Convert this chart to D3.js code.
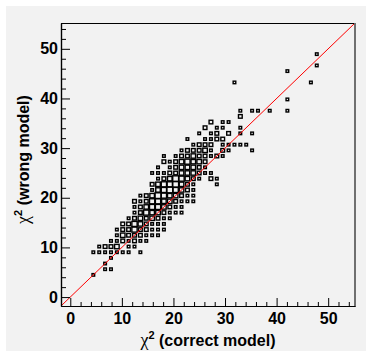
<!DOCTYPE html>
<html>
<head>
<meta charset="utf-8">
<script src="https://cdn.jsdelivr.net/npm/d3@7"></script>
<style>
  body { margin: 0; background: #fff; }
  .tick text { font-family: "Liberation Sans", Arial, sans-serif; font-weight: bold; font-size: 16px; fill: #000; }
</style>
</head>
<body>
<script>
// histogram definition (same binning on both axes)
const axisRange = [-1.8, 55.2];
const nBins = 50;

const majorTicks = [0, 10, 20, 30, 40, 50];
const minorTicks = [2, 4, 6, 8, 12, 14, 16, 18, 22, 24, 26, 28, 32, 34, 36, 38, 42, 44, 46, 48, 52, 54];

const xTitle = "(correct model)";
const yTitle = "(wrong model)";

// filled bins: [x bin, y bin, entries]
const cells = [
  [5, 5, 1], [7, 6, 1], [8, 6, 1], [7, 7, 1], [8, 8, 1],
  [5, 9, 1], [6, 9, 1], [7, 9, 1], [8, 9, 1], [9, 9, 1], [10, 9, 1], [11, 9, 1], [13, 9, 1],
  [6, 10, 1], [7, 10, 2], [8, 10, 2], [9, 10, 3], [11, 10, 1], [12, 10, 1],
  [8, 11, 1], [9, 11, 1], [10, 11, 2], [11, 11, 1], [12, 11, 2], [13, 11, 1], [14, 11, 1],
  [9, 12, 1], [10, 12, 3], [11, 12, 2], [12, 12, 2], [13, 12, 2], [14, 12, 1], [15, 12, 1], [16, 12, 1],
  [9, 13, 1], [10, 13, 2], [11, 13, 2], [12, 13, 4], [13, 13, 2], [14, 13, 2], [15, 13, 1], [16, 13, 1], [17, 13, 1],
  [10, 14, 2], [11, 14, 2], [12, 14, 4], [13, 14, 3], [14, 14, 2], [15, 14, 1], [16, 14, 1], [17, 14, 1],
  [11, 15, 1], [12, 15, 2], [13, 15, 3], [14, 15, 2], [15, 15, 3], [16, 15, 2], [17, 15, 1], [18, 15, 1],
  [12, 16, 1], [13, 16, 2], [14, 16, 4], [15, 16, 3], [16, 16, 3], [17, 16, 2], [18, 16, 1], [19, 16, 1], [20, 16, 1],
  [12, 17, 1], [13, 17, 2], [14, 17, 3], [15, 17, 4], [16, 17, 4], [17, 17, 3], [18, 17, 2], [19, 17, 1], [20, 17, 1],
  [12, 18, 2], [13, 18, 1], [14, 18, 2], [15, 18, 4], [16, 18, 4], [17, 18, 3], [18, 18, 3], [19, 18, 2], [20, 18, 1], [21, 18, 1], [22, 18, 1],
  [13, 19, 1], [14, 19, 2], [15, 19, 3], [16, 19, 5], [17, 19, 4], [18, 19, 3], [19, 19, 3], [20, 19, 2], [21, 19, 1], [22, 19, 1],
  [15, 20, 1], [16, 20, 3], [17, 20, 4], [18, 20, 5], [19, 20, 4], [20, 20, 3], [21, 20, 2], [22, 20, 1],
  [15, 21, 2], [16, 21, 3], [17, 21, 4], [18, 21, 4], [19, 21, 5], [20, 21, 3], [21, 21, 2], [22, 21, 1], [26, 21, 1],
  [16, 22, 1], [17, 22, 2], [18, 22, 3], [19, 22, 5], [20, 22, 4], [21, 22, 3], [22, 22, 2], [23, 22, 1], [25, 22, 2], [26, 22, 1],
  [15, 23, 1], [16, 23, 1], [17, 23, 1], [18, 23, 2], [19, 23, 2], [20, 23, 3], [21, 23, 3], [22, 23, 3], [23, 23, 2], [24, 23, 1], [25, 23, 1],
  [16, 24, 1], [18, 24, 1], [19, 24, 2], [20, 24, 3], [21, 24, 3], [22, 24, 3], [23, 24, 2], [24, 24, 1],
  [17, 25, 2], [18, 25, 1], [19, 25, 2], [20, 25, 3], [21, 25, 4], [22, 25, 3], [23, 25, 3], [24, 25, 2],
  [17, 26, 1], [19, 26, 1], [20, 26, 2], [21, 26, 2], [22, 26, 3], [23, 26, 2], [24, 26, 2], [25, 26, 1], [26, 26, 2], [27, 26, 1],
  [20, 27, 1], [21, 27, 2], [22, 27, 2], [23, 27, 2], [24, 27, 3], [25, 27, 1], [27, 27, 2], [28, 27, 1], [32, 27, 1],
  [22, 28, 1], [23, 28, 2], [24, 28, 2], [25, 28, 2], [27, 28, 1], [28, 28, 1], [29, 28, 1], [30, 28, 1], [31, 28, 1],
  [21, 29, 1], [24, 29, 1], [25, 29, 1], [26, 29, 2], [27, 29, 2],
  [23, 30, 1], [25, 30, 1], [26, 30, 2], [28, 30, 2], [30, 30, 1], [32, 30, 1],
  [24, 31, 2], [26, 31, 1], [27, 31, 1], [30, 31, 1],
  [25, 32, 2], [27, 32, 1], [28, 32, 1],
  [30, 33, 2],
  [30, 34, 1], [32, 34, 1], [33, 34, 1], [35, 34, 1], [38, 34, 1],
  [38, 36, 1],
  [29, 39, 1], [42, 39, 1],
  [38, 41, 1],
  [43, 42, 1],
  [43, 44, 1]
];

// ----- layout -----
const W = 368, H = 357;
const frame = { left: 61, right: 355, top: 23, bottom: 306 };
const bg = "#f2f2f2";

const svg = d3.select("body").append("svg")
  .attr("width", W)
  .attr("height", H);

svg.append("rect")
  .attr("x", 6).attr("y", 6)
  .attr("width", 360).attr("height", 345)
  .attr("fill", bg);

const x = d3.scaleLinear().domain(axisRange).range([frame.left, frame.right]);
const y = d3.scaleLinear().domain(axisRange).range([frame.bottom, frame.top]);
const binW = (axisRange[1] - axisRange[0]) / nBins;
const maxN = d3.max(cells, d => d[2]);

// boxes: side grows with sqrt of content, centred in the bin
const side = n => binW * Math.sqrt(n / maxN);
const boxes = svg.append("g").attr("class", "boxes");
boxes.selectAll("rect")
  .data(cells)
  .enter()
  .append("rect")
    .attr("x", d => x(axisRange[0] + (d[0] + 0.5) * binW - side(d[2]) / 2))
    .attr("y", d => y(axisRange[0] + (d[1] + 0.5) * binW + side(d[2]) / 2))
    .attr("width", d => x(axisRange[0] + side(d[2])) - x(axisRange[0]))
    .attr("height", d => y(axisRange[0]) - y(axisRange[0] + side(d[2])))
    .attr("fill", "none")
    .attr("stroke", "#000")
    .attr("stroke-width", 1.4);

// y = x reference line
svg.append("line")
  .attr("x1", x(axisRange[0])).attr("y1", y(axisRange[0]))
  .attr("x2", x(axisRange[1])).attr("y2", y(axisRange[1]))
  .attr("stroke", "#ff0000")
  .attr("stroke-width", 1);

// frame edges
svg.append("line")
  .attr("x1", frame.left).attr("x2", frame.right)
  .attr("y1", frame.top + 0.5).attr("y2", frame.top + 0.5)
  .attr("stroke", "#000");
svg.append("line")
  .attr("x1", frame.right).attr("x2", frame.right)
  .attr("y1", frame.top).attr("y2", frame.bottom)
  .attr("stroke", "#707070")
  .attr("stroke-width", 2);

// axes, ticks drawn inward
const xMajor = d3.axisBottom(x).tickValues(majorTicks).tickSize(-8).tickSizeOuter(0).tickPadding(7);
const xMinor = d3.axisBottom(x).tickValues(minorTicks).tickSize(-4).tickSizeOuter(0).tickFormat("");
const yMajor = d3.axisLeft(y).tickValues(majorTicks).tickSize(-9).tickSizeOuter(0).tickPadding(3);
const yMinor = d3.axisLeft(y).tickValues(minorTicks).tickSize(-5).tickSizeOuter(0).tickFormat("");

svg.append("g").attr("transform", `translate(0,${frame.bottom})`).call(xMinor);
svg.append("g").attr("transform", `translate(0,${frame.bottom})`).call(xMajor);
svg.append("g").attr("transform", `translate(${frame.left},0)`).call(yMinor);
svg.append("g").attr("transform", `translate(${frame.left},0)`).call(yMajor);

svg.selectAll(".domain").attr("stroke", "#000").attr("stroke-width", 1.2);
svg.selectAll(".tick line").attr("stroke", "#000");

// axis titles
function title(sel, text) {
  sel.attr("font-family", "Liberation Sans, Arial, sans-serif")
    .attr("font-weight", "bold")
    .attr("font-size", 16)
    .attr("text-anchor", "middle");
  sel.append("tspan")
    .attr("font-family", "Liberation Serif, serif")
    .attr("font-weight", "normal")
    .attr("font-size", 18)
    .text("χ");
  sel.append("tspan")
    .attr("font-size", 11)
    .attr("dy", -7)
    .text("2");
  sel.append("tspan")
    .attr("dy", 7)
    .text(" " + text);
}

svg.append("text")
  .attr("x", (frame.left + frame.right) / 2)
  .attr("y", 346)
  .call(title, xTitle);

svg.append("text")
  .attr("transform", `translate(29,${(frame.top + frame.bottom) / 2 - 5}) rotate(-90)`)
  .call(title, yTitle);
</script>
</body>
</html>
